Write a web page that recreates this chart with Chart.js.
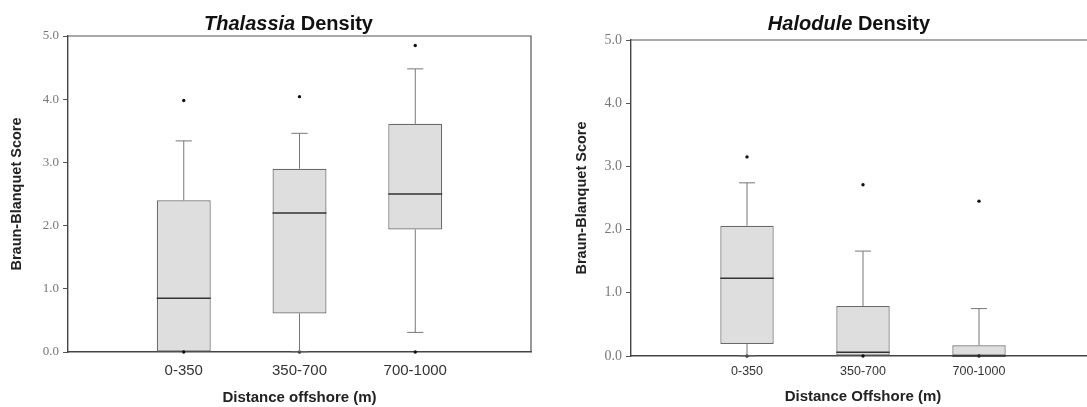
<!DOCTYPE html>
<html>
<head>
<meta charset="utf-8">
<script src="https://cdn.jsdelivr.net/npm/chart.js@4.4.1/dist/chart.umd.min.js"></script>
<style>
  html, body { margin: 0; padding: 0; background: #fff; overflow: hidden; }
  body { width: 1087px; height: 407px; position: relative; }
  canvas { position: absolute; top: 0; }
</style>
</head>
<body>
<canvas id="thalassiaChart" width="545" height="407" style="left:0"></canvas>
<canvas id="haloduleChart" width="565" height="407" style="left:545px"></canvas>
<script>
// 공통 값
const categories = ['0-350', '350-700', '700-1000'];
const yTickValues = [0, 1, 2, 3, 4, 5];

// Thalassia 상자 그림 값
const thalLow = [0, 0, 0.31];
const thalQ1 = [0, 0.61, 1.94];
const thalMedian = [0.85, 2.20, 2.50];
const thalQ3 = [2.40, 2.90, 3.61];
const thalHigh = [3.34, 3.46, 4.48];
const thalOutliers = [[3.98, 0], [4.04, 0], [4.85, 0]];

// Halodule 상자 그림 값
const haloLow = [0, 0, 0];
const haloQ1 = [0.19, 0, 0];
const haloMedian = [1.23, 0.06, 0];
const haloQ3 = [2.06, 0.79, 0.17];
const haloHigh = [2.74, 1.66, 0.75];
const haloOutliers = [[3.15, 0], [2.71, 0], [2.45, 0]];

// 수염, 중앙값, 테두리, 제목 그리기
const boxPlotPlugin = {
    id: 'boxPlotExtras',
    afterDatasetsDraw: function(chart) {
        var s = chart.config.options.plugins.boxPlotExtras;
        var ctx = chart.ctx;
        var y = chart.scales.y;
        var meta = chart.getDatasetMeta(s.boxIndex);
        ctx.save();
        for (var i = 0; i < categories.length; i++) {
            var el = meta.data[i + 1];
            var cx = el.x;
            var half = el.width / 2;
            var capHalf = el.width * 0.15;
            ctx.strokeStyle = '#777';
            ctx.lineWidth = 1;
            // 위 수염
            ctx.beginPath();
            ctx.moveTo(cx, y.getPixelForValue(s.q3[i]));
            ctx.lineTo(cx, y.getPixelForValue(s.high[i]));
            ctx.moveTo(cx - capHalf, y.getPixelForValue(s.high[i]));
            ctx.lineTo(cx + capHalf, y.getPixelForValue(s.high[i]));
            // 아래 수염
            if (s.q1[i] > s.low[i]) {
                ctx.moveTo(cx, y.getPixelForValue(s.q1[i]));
                ctx.lineTo(cx, y.getPixelForValue(s.low[i]));
                ctx.moveTo(cx - capHalf, y.getPixelForValue(s.low[i]));
                ctx.lineTo(cx + capHalf, y.getPixelForValue(s.low[i]));
            }
            ctx.stroke();
            // 중앙값
            ctx.strokeStyle = '#333';
            ctx.lineWidth = 1.6;
            ctx.beginPath();
            ctx.moveTo(cx - half, y.getPixelForValue(s.median[i]));
            ctx.lineTo(cx + half, y.getPixelForValue(s.median[i]));
            ctx.stroke();
        }
        // 위, 오른쪽 테두리
        var a = chart.chartArea;
        ctx.strokeStyle = '#555';
        ctx.lineWidth = 1.2;
        ctx.beginPath();
        ctx.moveTo(a.left, a.top);
        ctx.lineTo(a.right, a.top);
        ctx.lineTo(a.right, a.bottom);
        ctx.stroke();
        // 제목 (이탤릭 + 굵게)
        ctx.fillStyle = '#111';
        ctx.textBaseline = 'alphabetic';
        ctx.font = 'italic bold 20px "Liberation Sans", Arial, sans-serif';
        var w1 = ctx.measureText(s.titleItalic).width;
        ctx.font = 'bold 20px "Liberation Sans", Arial, sans-serif';
        var w2 = ctx.measureText(s.titleRest).width;
        var start = (a.left + a.right) / 2 + s.titleShift - (w1 + w2) / 2;
        ctx.font = 'italic bold 20px "Liberation Sans", Arial, sans-serif';
        ctx.fillText(s.titleItalic, start, 30);
        ctx.font = 'bold 20px "Liberation Sans", Arial, sans-serif';
        ctx.fillText(s.titleRest, start + w1, 30);
        ctx.restore();
    }
};

function makeBoxChart(canvasId, set) {
    var ctx = document.getElementById(canvasId).getContext('2d');
    var labels = [''].concat(categories, ['']);
    var boxes = [null].concat(set.q1.map(function(v, i) { return [v, set.q3[i]]; }), [null]);
    var dots = [];
    set.outliers.forEach(function(list, i) {
        list.forEach(function(v) { dots.push({ x: categories[i], y: v }); });
    });

    return new Chart(ctx, {
        type: 'bar',
        data: {
            labels: labels,
            datasets: [{
                type: 'bar',
                data: boxes,
                backgroundColor: '#dedede',
                borderColor: '#6a6a6a',
                borderWidth: 1.2,
                borderSkipped: false,
                barPercentage: set.boxWidth,
                categoryPercentage: 1,
                order: 1
            }, {
                type: 'scatter',
                data: dots,
                pointRadius: 1.7,
                pointBackgroundColor: '#111',
                pointBorderWidth: 0,
                clip: false,
                order: 0
            }]
        },
        options: {
            responsive: false,
            animation: false,
            events: [],
            layout: { padding: { top: set.top, right: set.right, left: 0, bottom: 0 } },
            plugins: {
                legend: { display: false },
                tooltip: { enabled: false },
                boxPlotExtras: {
                    boxIndex: 0,
                    q1: set.q1, q3: set.q3, median: set.median, low: set.low, high: set.high,
                    titleItalic: set.titleItalic, titleRest: set.titleRest, titleShift: set.titleShift
                }
            },
            scales: {
                x: {
                    type: 'category',
                    offset: false,
                    grid: { display: false, drawTicks: false },
                    border: { color: '#444', width: 1.4 },
                    ticks: {
                        autoSkip: false, maxRotation: 0, padding: set.xTickPad,
                        color: '#333',
                        font: { family: '"Liberation Sans", Arial, sans-serif', size: set.xTickSize }
                    },
                    title: {
                        display: true, text: set.xTitle, color: '#222',
                        padding: { top: 0, bottom: set.xTitlePad },
                        font: { family: '"Liberation Sans", Arial, sans-serif', size: 15, weight: 'bold' }
                    },
                    afterFit: function(scale) { scale.height = set.xHeight; }
                },
                y: {
                    min: 0, max: 5,
                    afterBuildTicks: function(scale) {
                        scale.ticks = yTickValues.map(function(v) { return { value: v }; });
                    },
                    grid: { display: true, drawOnChartArea: false, drawTicks: true, tickLength: 5, color: '#555' },
                    border: { color: '#444', width: 1.4 },
                    ticks: {
                        padding: 4, color: '#777',
                        font: { family: '"Liberation Serif", "Times New Roman", serif', size: set.yTickSize },
                        callback: function(v) { return Number(v).toFixed(1); }
                    },
                    title: {
                        display: true, text: 'Braun-Blanquet Score', color: '#222',
                        padding: { top: set.yTitlePad, bottom: 0 },
                        font: { family: '"Liberation Sans", Arial, sans-serif', size: 14.5, weight: 'bold' }
                    },
                    afterFit: function(scale) { scale.width = set.yWidth; }
                }
            }
        },
        plugins: [boxPlotPlugin]
    });
}

document.addEventListener('DOMContentLoaded', function() {
    makeBoxChart('thalassiaChart', {
        q1: thalQ1, q3: thalQ3, median: thalMedian, low: thalLow, high: thalHigh, outliers: thalOutliers,
        titleItalic: 'Thalassia', titleRest: ' Density', titleShift: -11,
        xTitle: 'Distance offshore (m)',
        top: 36, right: 14, yWidth: 68, xHeight: 55,
        boxWidth: 0.466, xTickPad: 10, xTickSize: 15, xTitlePad: 0,
        yTickSize: 13, yTitlePad: 8
    });
    makeBoxChart('haloduleChart', {
        q1: haloQ1, q3: haloQ3, median: haloMedian, low: haloLow, high: haloHigh, outliers: haloOutliers,
        titleItalic: 'Halodule', titleRest: ' Density', titleShift: -14,
        xTitle: 'Distance Offshore (m)',
        top: 40, right: 15, yWidth: 86, xHeight: 51,
        boxWidth: 0.46, xTickPad: 8.5, xTickSize: 12.5, xTitlePad: 1,
        yTickSize: 14, yTitlePad: 28
    });
});
</script>
</body>
</html>
